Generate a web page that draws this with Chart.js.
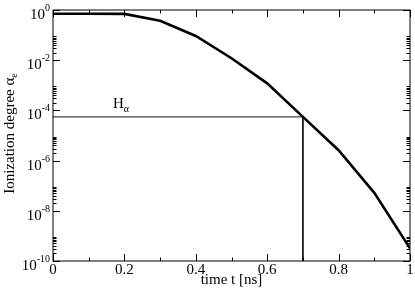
<!DOCTYPE html>
<html>
<head>
<meta charset="utf-8">
<script src="https://cdn.jsdelivr.net/npm/chart.js@4"></script>
<style>
    body { margin: 0; background: #fff; }
    #chart { display: block; }
</style>
</head>
<body>
<canvas id="chart" width="415" height="292"></canvas>
<script>
// values
const times = [0, 0.1, 0.2, 0.3, 0.4, 0.5, 0.6, 0.7, 0.8, 0.9, 1.0];
const ionization = [0.71, 0.71, 0.70, 0.37, 0.092, 0.012, 1.2e-3, 5.5e-5, 2.6e-6, 5.2e-8, 3.2e-10];

const hAlphaLevel = 5.5e-5;
const hAlphaTime = 0.7;
const hAlphaLabelTime = 0.168;

const xMajorTicks = [0, 0.2, 0.4, 0.6, 0.8, 1];
const xMinorTicks = [0.1, 0.3, 0.5, 0.7, 0.9];
const yLabelExponents = [0, -2, -4, -6, -8, -10];

const serif = "'Liberation Serif', 'DejaVu Serif', serif";

const decorations = {
    id: "decorations",
    afterDraw(chart) {
        const ctx = chart.ctx;
        const area = chart.chartArea;
        const xs = chart.scales.x;
        const ys = chart.scales.y;

        ctx.save();
        ctx.strokeStyle = "#000";
        ctx.lineWidth = 1;
        ctx.strokeRect(area.left, area.top, area.right - area.left, area.bottom - area.top);

        // inward ticks, top and bottom
        const xTick = (v, len) => {
            const px = Math.round(xs.getPixelForValue(v)) + 0.5;
            ctx.beginPath();
            ctx.moveTo(px, area.bottom);
            ctx.lineTo(px, area.bottom - len);
            ctx.moveTo(px, area.top);
            ctx.lineTo(px, area.top + len);
            ctx.stroke();
        };
        xMajorTicks.forEach(v => xTick(v, 7));
        xMinorTicks.forEach(v => xTick(v, 3.5));

        // inward ticks, left and right
        const yTick = (v, len) => {
            const py = Math.round(ys.getPixelForValue(v)) + 0.5;
            ctx.beginPath();
            ctx.moveTo(area.left, py);
            ctx.lineTo(area.left + len, py);
            ctx.moveTo(area.right, py);
            ctx.lineTo(area.right - len, py);
            ctx.stroke();
        };
        yLabelExponents.forEach(e => {
            yTick(Math.pow(10, e), 7);
            if (e < 0) {
                for (let k = 2; k <= 9; k++) {
                    yTick(k * Math.pow(10, e), 3.5);
                }
            }
        });

        // y tick labels 10^e
        ctx.fillStyle = "#000";
        ctx.textAlign = "right";
        ctx.textBaseline = "alphabetic";
        yLabelExponents.forEach(e => {
            const py = ys.getPixelForValue(Math.pow(10, e));
            const exp = e === 0 ? "0" : "-" + Math.abs(e);
            ctx.font = "10px " + serif;
            const w = ctx.measureText(exp).width;
            ctx.fillText(exp, area.left - 3, py + 1);
            ctx.font = "15px " + serif;
            ctx.fillText("10", area.left - 3 - w, py + 9);
        });

        // y axis title with subscript
        ctx.save();
        ctx.translate(14, (area.top + area.bottom) / 2 - 2);
        ctx.rotate(-Math.PI / 2);
        ctx.textAlign = "left";
        ctx.font = "15px " + serif;
        const main = "Ionization degree \u03b1";
        const wMain = ctx.measureText(main).width;
        ctx.font = "10px " + serif;
        const wSub = ctx.measureText("e").width;
        const start = -(wMain + wSub) / 2;
        ctx.font = "15px " + serif;
        ctx.fillText(main, start, 0);
        ctx.font = "10px " + serif;
        ctx.fillText("e", start + wMain, 3);
        ctx.restore();

        // H alpha label
        const hx = xs.getPixelForValue(hAlphaLabelTime);
        const hy = ys.getPixelForValue(hAlphaLevel) - 9;
        ctx.textAlign = "left";
        ctx.font = "15px " + serif;
        const wH = ctx.measureText("H").width;
        ctx.fillText("H", hx, hy);
        ctx.font = "10px " + serif;
        ctx.fillText("\u03b1", hx + wH, hy + 4);

        ctx.restore();
    }
};

new Chart(document.getElementById("chart"), {
    type: "line",
    data: {
        datasets: [
            {
                label: "H alpha",
                data: [
                    { x: 0, y: hAlphaLevel },
                    { x: hAlphaTime, y: hAlphaLevel },
                    { x: hAlphaTime, y: 1e-10 }
                ],
                borderColor: "#111",
                borderWidth: 1,
                pointRadius: 0,
                fill: false
            },
            {
                label: "Ionization degree",
                data: times.map((t, i) => ({ x: t, y: ionization[i] })),
                borderColor: "#000",
                borderWidth: 2.6,
                pointRadius: 0,
                fill: false,
                tension: 0
            }
        ]
    },
    options: {
        responsive: false,
        animation: false,
        events: [],
        layout: {
            padding: { top: 10, right: 5, left: 0, bottom: 0 }
        },
        plugins: {
            legend: { display: false },
            tooltip: { enabled: false }
        },
        scales: {
            x: {
                type: "linear",
                min: 0,
                max: 1,
                afterBuildTicks: scale => {
                    scale.ticks = xMajorTicks.map(v => ({ value: v }));
                },
                afterFit: scale => {
                    scale.height = 31;
                },
                grid: { display: false, drawTicks: false },
                border: { display: false },
                ticks: {
                    padding: 0,
                    maxRotation: 0,
                    color: "#000",
                    font: { family: serif, size: 15 },
                    callback: v => String(v)
                },
                title: {
                    display: true,
                    text: "time t [ns]",
                    color: "#000",
                    font: { family: serif, size: 15 },
                    padding: { top: 0, bottom: 3 }
                }
            },
            y: {
                type: "logarithmic",
                min: 1e-10,
                max: 1,
                afterFit: scale => {
                    scale.width = 53;
                },
                grid: { display: false, drawTicks: false },
                border: { display: false },
                ticks: { display: false }
            }
        }
    },
    plugins: [decorations]
});
</script>
</body>
</html>
